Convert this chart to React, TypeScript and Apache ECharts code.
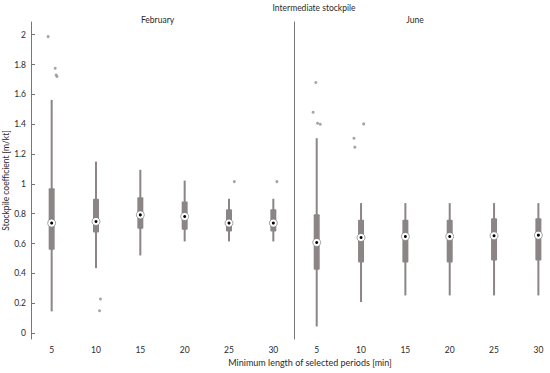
import React, { useEffect, useRef } from "react";
import * as echarts from "echarts";

const mainTitle = "Intermediate stockpile";
const panelTitles = ["February", "June"];
const xAxisTitle = "Minimum length of selected periods [min]";
const yAxisTitle = "Stockpile coefficient [m/kt]";

const periods = [5, 10, 15, 20, 25, 30];
const yTickValues = [0, 0.2, 0.4, 0.6, 0.8, 1, 1.2, 1.4, 1.6, 1.8, 2];

// February
const febLow = [0.145, 0.435, 0.52, 0.614, 0.614, 0.614];
const febQ1 = [0.558, 0.674, 0.699, 0.692, 0.681, 0.681];
const febMed = [0.737, 0.748, 0.792, 0.781, 0.737, 0.737];
const febQ3 = [0.971, 0.9, 0.911, 0.882, 0.83, 0.83];
const febHigh = [1.563, 1.149, 1.094, 1.022, 0.9, 0.9];
const febOutliers = [
  [4.6, 1.987],
  [5.4, 1.775],
  [5.5, 1.73],
  [5.6, 1.72],
  [10.5, 0.228],
  [10.4, 0.149],
  [25.6, 1.015],
  [30.4, 1.015],
];

// June
const junLow = [0.044, 0.208, 0.252, 0.252, 0.252, 0.252];
const junQ1 = [0.424, 0.473, 0.473, 0.473, 0.486, 0.486];
const junMed = [0.607, 0.64, 0.647, 0.647, 0.652, 0.656];
const junQ3 = [0.797, 0.759, 0.759, 0.759, 0.77, 0.77];
const junHigh = [1.306, 0.871, 0.871, 0.871, 0.871, 0.871];
const junOutliers = [
  [4.9, 1.679],
  [4.6, 1.48],
  [5.1, 1.406],
  [5.4, 1.4],
  [10.3, 1.402],
  [9.2, 1.306],
  [9.3, 1.246],
];

const GRAY = "#8b8585";
const FONT = "Lato";
const TEXT = "#2a2a2a";

function boxData(low: number[], q1: number[], med: number[], q3: number[], high: number[]) {
  return periods.map((p, i) => [p, low[i], q1[i], med[i], q3[i], high[i]]);
}

const renderBox = (params: any, api: any) => {
  const x = api.value(0);
  const pLow = api.coord([x, api.value(1)]);
  const pQ1 = api.coord([x, api.value(2)]);
  const pMed = api.coord([x, api.value(3)]);
  const pQ3 = api.coord([x, api.value(4)]);
  const pHigh = api.coord([x, api.value(5)]);
  const wW = 2;
  const bW = 6;
  return {
    type: "group",
    children: [
      {
        type: "rect",
        shape: { x: pLow[0] - wW / 2, y: pHigh[1], width: wW, height: pLow[1] - pHigh[1] },
        style: { fill: GRAY },
      },
      {
        type: "rect",
        shape: { x: pQ1[0] - bW / 2, y: pQ3[1], width: bW, height: pQ1[1] - pQ3[1], r: 1 },
        style: { fill: GRAY },
      },
      {
        type: "circle",
        shape: { cx: pMed[0], cy: pMed[1], r: 4 },
        style: { fill: "#ffffff", stroke: "#6a6a6a", lineWidth: 0.6 },
      },
      {
        type: "circle",
        shape: { cx: pMed[0], cy: pMed[1], r: 1.5 },
        style: { fill: "#000000" },
      },
    ],
  };
};

export default function App() {
  const ref = useRef<HTMLDivElement>(null);
  useEffect(() => {
    if (!ref.current) return;
    const chart = echarts.init(ref.current, undefined, { renderer: "svg" });
    const axisLabelStyle = { fontFamily: FONT, fontSize: 8.5, color: TEXT };
    chart.setOption({
      animation: false,
      backgroundColor: "#ffffff",
      textStyle: { fontFamily: FONT },
      grid: [
        { left: 31, top: 22, width: 263, height: 317 },
        { left: 294, top: 22, width: 256, height: 317 },
      ],
      xAxis: [
        {
          type: "value",
          gridIndex: 0,
          min: 2.67,
          max: 32.33,
          splitLine: { show: false },
          axisLine: { show: false },
          axisTick: { show: false },
          axisLabel: { ...axisLabelStyle, margin: 6, customValues: periods },
        },
        {
          type: "value",
          gridIndex: 1,
          min: 2.44,
          max: 31.31,
          splitLine: { show: false },
          axisLine: { show: false },
          axisTick: { show: false },
          axisLabel: { ...axisLabelStyle, margin: 6, customValues: periods },
        },
      ],
      yAxis: [
        {
          type: "value",
          gridIndex: 0,
          min: -0.04,
          max: 2.085,
          splitLine: { show: false },
          axisLine: { show: true, lineStyle: { color: "#777", width: 1 } },
          axisTick: { show: true, inside: true, length: 4, lineStyle: { color: "#777" }, customValues: yTickValues },
          axisLabel: { ...axisLabelStyle, margin: 5, customValues: yTickValues },
          name: yAxisTitle,
          nameLocation: "middle",
          nameGap: 21,
          nameRotate: 90,
          nameTextStyle: { fontFamily: FONT, fontSize: 8.5, color: TEXT },
        },
        {
          type: "value",
          gridIndex: 1,
          min: -0.04,
          max: 2.085,
          splitLine: { show: false },
          axisLine: { show: true, lineStyle: { color: "#777", width: 1 } },
          axisTick: { show: false },
          axisLabel: { show: false },
        },
      ],
      graphic: [
        { type: "text", x: 314, y: 8, style: { text: mainTitle, fontFamily: FONT, fontSize: 8.5, fill: TEXT, textAlign: "center", textVerticalAlign: "middle" } },
        { type: "text", x: 157.5, y: 20, style: { text: panelTitles[0], fontFamily: FONT, fontSize: 8.5, fill: TEXT, textAlign: "center", textVerticalAlign: "middle" } },
        { type: "text", x: 415, y: 20, style: { text: panelTitles[1], fontFamily: FONT, fontSize: 8.5, fill: TEXT, textAlign: "center", textVerticalAlign: "middle" } },
        { type: "text", x: 310, y: 362, style: { text: xAxisTitle, fontFamily: FONT, fontSize: 9, fill: TEXT, textAlign: "center", textVerticalAlign: "middle" } },
      ],
      series: [
        {
          type: "custom",
          xAxisIndex: 0,
          yAxisIndex: 0,
          renderItem: renderBox,
          encode: { x: 0, y: [1, 2, 3, 4, 5] },
          data: boxData(febLow, febQ1, febMed, febQ3, febHigh),
          z: 3,
        },
        {
          type: "custom",
          xAxisIndex: 1,
          yAxisIndex: 1,
          renderItem: renderBox,
          encode: { x: 0, y: [1, 2, 3, 4, 5] },
          data: boxData(junLow, junQ1, junMed, junQ3, junHigh),
          z: 3,
        },
        {
          type: "scatter",
          xAxisIndex: 0,
          yAxisIndex: 0,
          symbolSize: 3,
          itemStyle: { color: "#8e8e8e" },
          data: febOutliers,
        },
        {
          type: "scatter",
          xAxisIndex: 1,
          yAxisIndex: 1,
          symbolSize: 3,
          itemStyle: { color: "#8e8e8e" },
          data: junOutliers,
        },
      ],
    });
    return () => chart.dispose();
  }, []);
  return <div ref={ref} style={{ width: 550, height: 373, position: "absolute", left: 0, top: 0 }} />;
}
